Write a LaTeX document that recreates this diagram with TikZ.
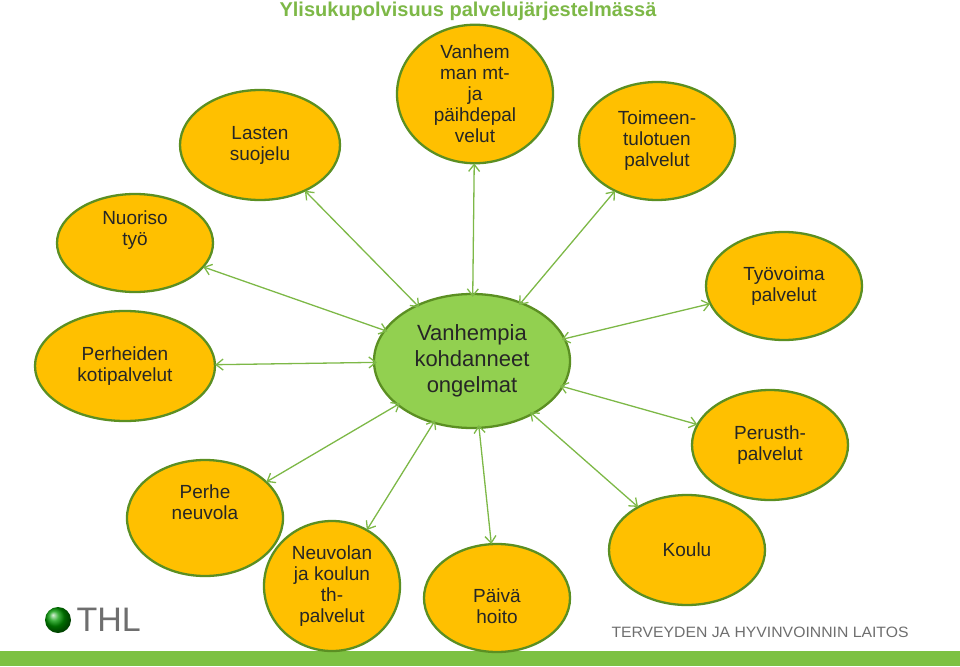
\documentclass[tikz,border=0pt]{standalone}
\usepackage{fontspec}
\setmainfont{Liberation Sans}
\usetikzlibrary{arrows.meta,shapes.geometric}
\definecolor{og}{HTML}{FFC000}
\definecolor{lg}{HTML}{92D050}
\definecolor{bd}{HTML}{5B8F22}
\definecolor{ln}{HTML}{7DB847}
\definecolor{bar}{HTML}{7DC142}
\definecolor{tg}{HTML}{6E6E6E}
\begin{document}
\begin{tikzpicture}[x=1pt,y=-1pt,
  ob/.style={ellipse,draw=bd,line width=2.3pt,fill=og,minimum width=#1,inner sep=0pt,align=center,font=\fontsize{19}{21}\selectfont,text=black!85},
  lnk/.style={draw=ln,line width=1.3pt,{Straight Barb[length=7pt,width=11pt]}-{Straight Barb[length=7pt,width=11pt]},shorten <=-4pt,shorten >=-1pt}]
\useasboundingbox (0,0) rectangle (960,666);
\fill[bar] (0,651) rectangle (960,666);
\node[ob=160pt,minimum height=110pt] (ls) at (260,145) {Lasten\\suojelu};
\node[ob=156pt,minimum height=138pt] (vm) at (475,94) {Vanhem\\man mt-\\ja\\päihdepal\\velut};
\node[ob=156pt,minimum height=118pt] (tt) at (657,141) {Toimeen-\\tulotuen\\palvelut};
\node[ob=156pt,minimum height=98pt] (nt) at (135,243) {Nuoriso\\työ\\[8pt]};
\node[ob=180pt,minimum height=110pt] (pk) at (125,366) {Perheiden\\kotipalvelut};
\node[ob=156pt,minimum height=108pt] (tv) at (784,286) {Työvoima\\palvelut};
\node[ob=156pt,minimum height=110pt] (pp) at (770,445) {Perusth-\\palvelut};
\node[ob=156pt,minimum height=116pt] (pn) at (205,518) {Perhe\\neuvola\\[10pt]};
\node[ob=136pt,minimum height=130pt] (nk) at (332,586) {Neuvolan\\ja koulun\\th-\\palvelut};
\node[ob=146pt,minimum height=108pt] (ph) at (497,598) {\rule{0pt}{30pt}Päivä\\hoito};
\node[ob=156pt,minimum height=110pt] (ko) at (687,550) {Koulu};
\node[ellipse,draw=bd,line width=2.3pt,fill=lg,minimum width=196pt,minimum height=134pt,inner sep=0pt,align=center,font=\fontsize{22}{26}\selectfont,text=black!85] (c) at (472,361) {Vanhempia\\kohdanneet\\ongelmat};
\foreach \n in {ls,vm,tt,nt,pk,tv,pp,pn,nk,ph,ko} \draw[lnk] (c) -- (\n);
\node[font=\bfseries\fontsize{20}{22}\selectfont,text=ln] (title) at (468,11) {Ylisukupolvisuus palvelujärjestelmässä};
% THL logo
\shade[ball color=green!60!black] (58,620) circle (13pt);
\node[font=\fontsize{34}{34}\selectfont,text=tg,anchor=west] (thl) at (73,620) {THL};
\node[font=\fontsize{15}{15}\selectfont,text=tg,anchor=center,xscale=1.05] (tl) at (760,632) {TERVEYDEN JA HYVINVOINNIN LAITOS};
\end{tikzpicture}
\end{document}
